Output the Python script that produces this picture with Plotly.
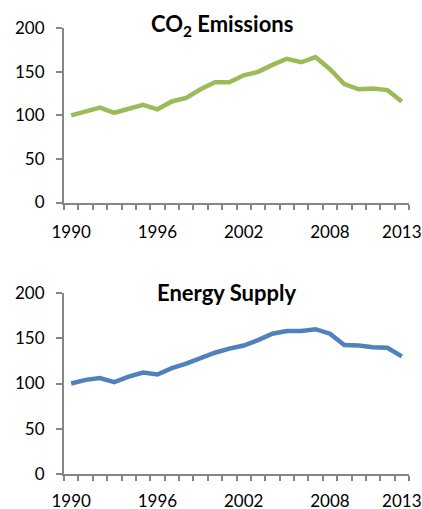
import plotly.graph_objects as go

years = list(range(1990, 2014))
co2 = [100, 104, 109, 103, 107, 112, 107, 116, 120, 130, 138, 138, 146, 150,
       158, 165, 161, 167, 153, 136, 130, 131, 129, 116]
energy = [100, 104, 106, 101.5, 107.5, 112, 110, 117, 122, 128, 134, 138.5, 142, 148,
          155, 158, 158, 160, 155, 142.5, 142, 140, 139.5, 130]
xtick_labels = [1990, 1996, 2002, 2008, 2013]
ytick_vals = [0, 50, 100, 150, 200]

W, H = 422, 509
FONT = "Lato"
AXC = "#868686"

fig = go.Figure()
fig.add_trace(go.Scatter(x=years, y=co2, mode="lines",
                         line=dict(color="#9BBB59", width=4.5),
                         xaxis="x", yaxis="y", showlegend=False))
fig.add_trace(go.Scatter(x=years, y=energy, mode="lines",
                         line=dict(color="#4F81BD", width=4.5),
                         xaxis="x2", yaxis="y2", showlegend=False))

def xax(anchor, standoff):
    return dict(range=[1989.5, 2013.5], tickvals=xtick_labels,
                ticktext=[str(v) for v in xtick_labels],
                ticks="outside", ticklen=standoff, tickcolor="rgba(0,0,0,0)",
                showline=True, linecolor=AXC, linewidth=2, showgrid=False,
                zeroline=False, anchor=anchor, automargin=False,
                minor=dict(tick0=1989.5, dtick=1, ticks="outside", ticklen=5,
                           tickcolor=AXC, tickwidth=1.5, showgrid=False),
                tickfont=dict(family=FONT, size=17, color="#000"),
                domain=[64 / W, 409 / W])

def yax(anchor, top, bottom):
    return dict(range=[0, 200], tickvals=ytick_vals, ticks="outside", ticklen=6,
                tickcolor=AXC, tickwidth=1.5, showline=True, linecolor=AXC,
                linewidth=2, showgrid=False, zeroline=False, anchor=anchor,
                ticklabelstandoff=8, automargin=False,
                tickfont=dict(family=FONT, size=17, color="#000"),
                domain=[1 - bottom / H, 1 - top / H])

fig.update_layout(
    width=W, height=H, margin=dict(l=0, r=0, t=0, b=0, autoexpand=False),
    paper_bgcolor="white", plot_bgcolor="white",
    xaxis=xax("y", 13), yaxis=yax("x", 28.3, 202.5),
    xaxis2=xax("y2", 11), yaxis2=yax("x2", 293, 474),
    annotations=[
        dict(text="<b>CO<sub>2</sub> Emissions</b>", x=222 / W, y=1 - 25 / H,
             xref="paper", yref="paper", showarrow=False,
             xanchor="center", yanchor="middle",
             font=dict(family=FONT, size=22, color="#000")),
        dict(text="<b>Energy Supply</b>", x=227 / W, y=1 - 292 / H,
             xref="paper", yref="paper", showarrow=False,
             xanchor="center", yanchor="middle",
             font=dict(family=FONT, size=22, color="#000")),
    ],
)

fig.write_html("out.html", config={"displayModeBar": False},
               post_script="document.body.style.margin='0';document.body.style.overflow='hidden';")
